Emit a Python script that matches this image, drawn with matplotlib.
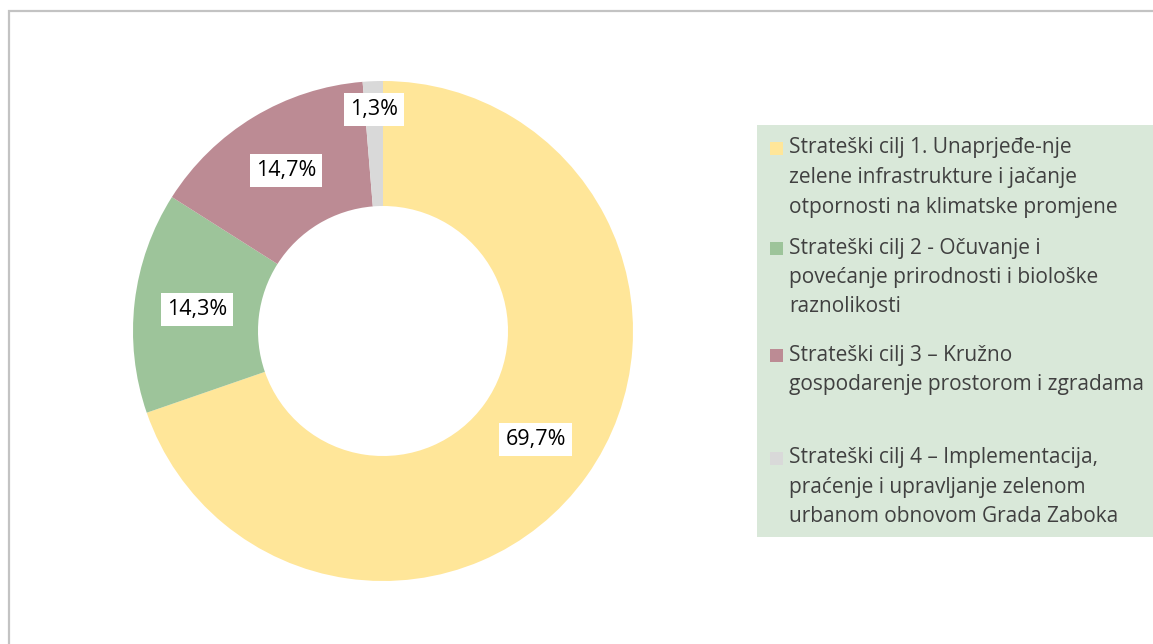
import matplotlib.pyplot as plt
from matplotlib.patches import Rectangle
import numpy as np

# share of each strategic goal, in percent
categories = [
    "Strateški cilj 1. Unaprjeđe-nje\nzelene infrastrukture i jačanje\notpornosti na klimatske promjene",
    "Strateški cilj 2 - Očuvanje i\npovećanje prirodnosti i biološke\nraznolikosti",
    "Strateški cilj 3 – Kružno\ngospodarenje prostorom i zgradama",
    "Strateški cilj 4 – Implementacija,\npraćenje i upravljanje zelenom\nurbanom obnovom Grada Zaboka",
]
shares = [69.7, 14.3, 14.7, 1.3]
colors = ["#FFE699", "#9DC49A", "#BC8B94", "#D9D9D9"]

W, H = 1153, 644
fig = plt.figure(figsize=(W / 100, H / 100), dpi=100)
plt.rcParams["font.family"] = ["Open Sans", "DejaVu Sans"]

# outer frame of the chart area
fig.add_artist(
    Rectangle(
        (8.5 / W, -0.1), 1.2, 1.1 - 11.5 / H,
        transform=fig.transFigure, fill=False, lw=1.6, ec="#C3C3C3",
    )
)

cx, cy, r = 383, 331, 250
ax = fig.add_axes([(cx - r) / W, (H - cy - r) / H, 2 * r / W, 2 * r / H])
wedges, _ = ax.pie(
    shares,
    colors=colors,
    startangle=90,
    counterclock=False,
    radius=1.0,
    wedgeprops=dict(width=0.5, linewidth=0),
)
ax.set_xlim(-1, 1)
ax.set_ylim(-1, 1)
ax.set_aspect("equal")
ax.axis("off")

# value labels on white boxes
label_dist = [0.75, 0.75, 0.75, 0.885]
for w, val, d in zip(wedges, shares, label_dist):
    ang = np.deg2rad((w.theta1 + w.theta2) / 2)
    ax.text(
        d * np.cos(ang), d * np.sin(ang),
        f"{val:.1f}%".replace(".", ","),
        ha="center", va="center", fontsize=15.5, color="black",
        bbox=dict(boxstyle="square,pad=0.28", fc="white", ec="none"),
    )

# legend panel
lx0, ly0, lx1, ly1 = 757, 125, W + 5, 537
fig.add_artist(
    Rectangle(
        (lx0 / W, 1 - ly1 / H), (lx1 - lx0) / W, (ly1 - ly0) / H,
        transform=fig.transFigure, fc="#D9E8D9", ec="none",
    )
)
entry_y = [148, 248, 355, 458]
line_h = 29.5
for label, c, y in zip(categories, colors, entry_y):
    fig.add_artist(
        Rectangle(
            (770 / W, 1 - (y + 7) / H), 13 / W, 13 / H,
            transform=fig.transFigure, fc=c, ec="none",
        )
    )
    for i, line in enumerate(label.split("\n")):
        fig.text(
            789 / W, 1 - (y + i * line_h) / H, line,
            ha="left", va="center", fontsize=15, color="#404040",
        )

fig.savefig("out.png", dpi=100, facecolor="white")
